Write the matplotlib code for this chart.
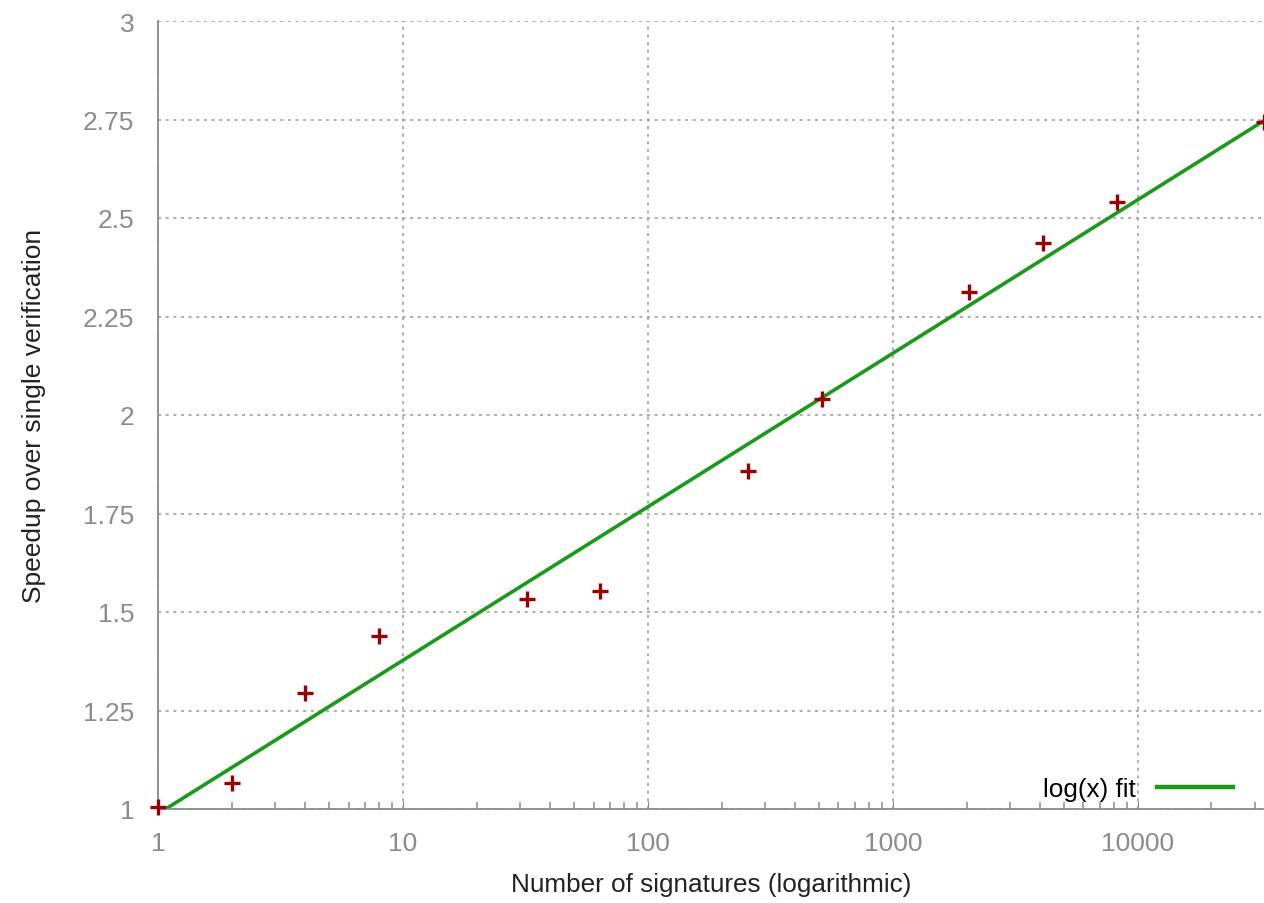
import matplotlib.pyplot as plt
import numpy as np

plt.rcParams['font.family'] = ['Liberation Sans', 'DejaVu Sans']

signatures = [1, 2, 4, 8, 32, 64, 256, 512, 2048, 4096, 8192, 32768]
speedup = [1.005, 1.066, 1.294, 1.439, 1.533, 1.553, 1.858, 2.041, 2.312, 2.437, 2.541, 2.744]

y_ticks = [1, 1.25, 1.5, 1.75, 2, 2.25, 2.5, 2.75, 3]
y_labels = ["1", "1.25", "1.5", "1.75", "2", "2.25", "2.5", "2.75", "3"]
x_ticks = [1, 10, 100, 1000, 10000]
x_labels = ["1", "10", "100", "1000", "10000"]

# least squares fit of speedup against log(x)
a, b = np.polyfit(np.log(signatures), speedup, 1)
xs = np.logspace(0, np.log10(signatures[-1]), 400)
fit = a * np.log(xs) + b

fig = plt.figure(figsize=(12.64, 9.04), dpi=100)
ax = fig.add_axes([158/1264, 94/904, 1106/1264, 788/904])

ax.plot(xs, fit, color="#1a9a1a", lw=2.6, label="log(x) fit", zorder=2)
ax.plot(signatures, speedup, ls="none", marker="+", ms=11, mew=2.4,
        color="#9b0000", zorder=3, clip_on=False)

ax.set_xscale("log")
ax.set_xlim(1, signatures[-1])
ax.set_ylim(1, 3)
ax.set_xticks(x_ticks)
ax.set_xticklabels(x_labels)
ax.set_yticks(y_ticks)
ax.set_yticklabels(y_labels)

gray = "#8a8a8a"
for s in ["top", "right"]:
    ax.spines[s].set_visible(False)
for s in ["left", "bottom"]:
    ax.spines[s].set_color(gray)
    ax.spines[s].set_linewidth(1.3)

ax.tick_params(axis="both", which="major", direction="in", length=6,
               color=gray, labelcolor="#8c8c8c", labelsize=19)
ax.tick_params(axis="x", which="major", pad=16)
ax.tick_params(axis="x", which="minor", direction="in", length=5, color=gray, width=1.1)
ax.tick_params(axis="y", which="major", length=0, pad=17)

ax.grid(True, which="major", color="#999999", ls=(0, (2, 3)), lw=1.1)

ax.set_xlabel("Number of signatures (logarithmic)", fontsize=18.8, color="#222222", labelpad=12)
ax.set_ylabel("Speedup over single verification", fontsize=19, color="#222222", labelpad=27)

leg = ax.legend(loc="lower right", frameon=False, fontsize=18.8,
                markerfirst=False, handlelength=2.9, handletextpad=0.8,
                bbox_to_anchor=(0.993, -0.02))
leg.get_lines()[0].set_linewidth(3.2)

fig.savefig("out.png", dpi=100)
